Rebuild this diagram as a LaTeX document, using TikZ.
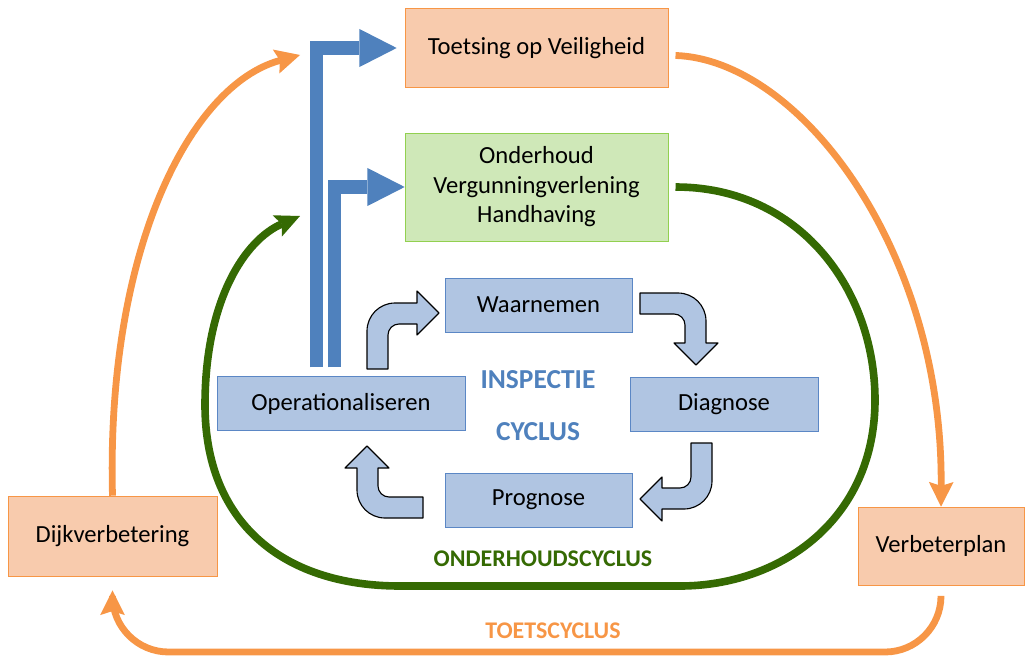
\documentclass[tikz,border=0pt]{standalone}
\usepackage{fontspec}
\setmainfont{Carlito}
\usetikzlibrary{arrows.meta}

\definecolor{orfill}{HTML}{F8CBAD}
\definecolor{orline}{HTML}{F79646}
\definecolor{orarr}{HTML}{F79646}
\definecolor{grfill}{HTML}{CFE8B8}
\definecolor{grline}{HTML}{92D050}
\definecolor{grarr}{HTML}{356A03}
\definecolor{blfill}{HTML}{B0C5E2}
\definecolor{blline}{HTML}{5B87C5}
\definecolor{blarr}{HTML}{4F81BD}

\begin{document}
\begin{tikzpicture}[x=0.025cm, y=0.025cm,
        font=\fontsize{17.5}{21}\selectfont,
        orbox/.style={draw=orline, fill=orfill, inner sep=0pt},
        grbox/.style={draw=grline, fill=grfill, inner sep=0pt, align=center},
        blbox/.style={draw=blline, fill=blfill, inner sep=0pt, minimum height=1.35cm},
        orarrow/.style={draw=orarr, line width=0.17cm, -{Stealth[length=0.62cm, width=0.62cm, inset=0.1cm, line width=0pt]}},
        grarrow/.style={draw=grarr, line width=0.19cm, -{Stealth[length=0.62cm, width=0.58cm, inset=0.12cm, line width=0pt]}},
        flow/.style={draw=blarr, line width=0.325cm, line join=miter, -{Triangle[length=0.93cm, width=0.95cm, line width=0pt]}},
        blockarrow/.style={fill=blfill, draw=black, line width=0.8pt, line join=round},
        cyclelabel/.style={font=\fontsize{17}{20}\selectfont\bfseries},
        bigcyclelabel/.style={font=\fontsize{19.5}{23}\selectfont\bfseries, text=blarr},
        bentarrow/.pic={
            \filldraw[blockarrow] (0,0) -- (0,38) arc[start angle=180, end angle=90, radius=28]
                -- (50,66) -- (50,78) -- (72,56) -- (50,34) -- (50,45) -- (32,45)
                arc[start angle=90, end angle=180, radius=11] -- (21,0) -- cycle;
        },
    ]
    \useasboundingbox (0,0) rectangle (1026,-657);

    \node[orbox, minimum width=6.575cm, minimum height=1.975cm] (toets) at (536.5,-48) {Toetsing op Veiligheid};
    \node[grbox, minimum width=6.575cm, minimum height=2.7cm] (onder) at (536.5,-187) {Onderhoud\\Vergunningverlening\\Handhaving};
    \node[blbox, minimum width=4.675cm] (waar) at (538.5,-305) {Waarnemen};
    \node[blbox, minimum width=4.7cm] (diag) at (724,-404) {Diagnose};
    \node[blbox, minimum width=4.675cm] (prog) at (538.5,-500) {Prognose};
    \node[blbox, minimum width=6.2cm] (oper) at (341,-403.5) {Operationaliseren};
    \node[orbox, minimum width=5.225cm, minimum height=2cm] (dijk) at (112.5,-536) {Dijkverbetering};
    \node[orbox, minimum width=4.15cm, minimum height=1.95cm] (verb) at (941,-546) {Verbeterplan};

    \node[bigcyclelabel] (insp) at (538,-380) {INSPECTIE};
    \node[bigcyclelabel] (cycl) at (538,-432) {CYCLUS};
    \node[cyclelabel, text=grarr] (ohcycl) at (543,-559) {ONDERHOUDSCYCLUS};
    \node[cyclelabel, text=orarr] (tcycl) at (553,-631) {TOETSCYCLUS};

    \coordinate (orin) at (300,-55);
    \coordinate (grin) at (300,-216);
    \coordinate (flowa) at (316,0);
    \coordinate (flowb) at (334,0);
    \coordinate (tbot) at (0,-652);

    \pic at (367,-369) {bentarrow};
    \pic[rotate=-90] at (640,-293) {bentarrow};
    \pic[rotate=180] at (712,-443) {bentarrow};
    \pic[rotate=90] at (423,-518) {bentarrow};

    \draw[flow, shorten <=0.22cm, shorten >=0.2cm] (oper.north -| flowa) |- (toets.west);
    \draw[flow, shorten <=0.22cm] (oper.north -| flowb) |- (onder.west);

    \draw[orarrow] (dijk.north) .. controls (106,-250) and (190,-85) .. (orin);
    \draw[orarrow, shorten <=0.18cm] ([yshift=-0.18cm]toets.east) .. controls (800,-60) and (943,-250) .. (verb.north);
    \draw[orarrow, rounded corners=1.4cm, shorten <=0.3cm, shorten >=0.35cm] (verb.south) -- (verb.south |- tbot) -- (dijk.south |- tbot) -- (dijk.south);

    \draw[grarrow, shorten <=0.18cm] (onder.east) .. controls (800,-187) and (875,-290) .. (875,-400)
        .. controls (875,-520) and (780,-586) .. (680,-586) -- (400,-586)
        .. controls (280,-586) and (205,-520) .. (205,-405)
        .. controls (205,-300) and (245,-240) .. (grin);
\end{tikzpicture}
\end{document}
